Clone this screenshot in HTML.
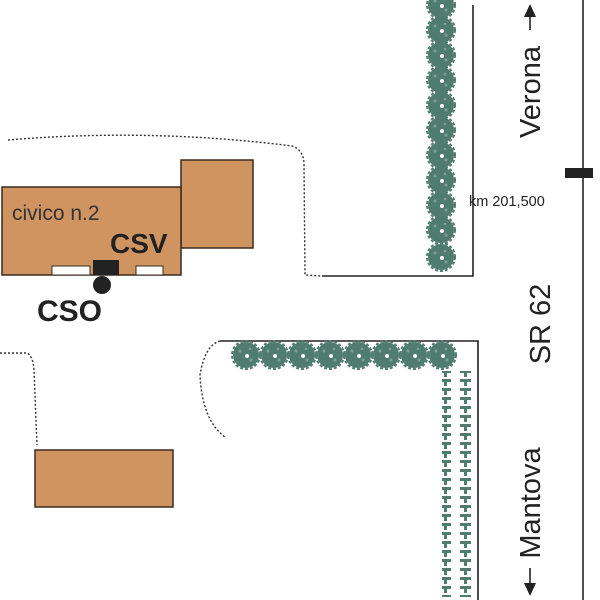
<!DOCTYPE html>
<html><head><style>
html,body{margin:0;padding:0;background:#fff;}
svg{display:block;font-family:"Liberation Sans",sans-serif;}
</style></head><body>
<svg width="600" height="600" viewBox="0 0 600 600" xmlns="http://www.w3.org/2000/svg">
<defs>
<g id="bush">
<circle r="13" fill="#507c70"/>
<circle r="14" fill="none" stroke="#507c70" stroke-width="2" stroke-dasharray="3 2"/>
<circle cx="1" cy="1" r="2" fill="#fff"/>
<circle cx="-6" cy="-4" r="1.5" fill="#7fa090"/>
<circle cx="5" cy="5" r="1.5" fill="#7fa090"/>
<circle cx="4" cy="-6" r="1.3" fill="#7fa090"/>
</g>
<pattern id="tt" x="0" y="0" width="20" height="9" patternUnits="userSpaceOnUse">
<path d="M0 1h11v3h-4v4h-3v-4h-4z" fill="#507c70"/>
</pattern>
</defs>
<g stroke="#222" stroke-width="1.6" fill="none">
<polyline points="473,5 473,276 322,276"/>
<polyline points="220,341 478,341 478,600"/>
<line x1="583" y1="0" x2="583" y2="600"/>
</g>
<g stroke="#333" stroke-width="1.4" fill="none" stroke-dasharray="2 2">
<path d="M8,140 Q150,128 292,146 Q304,150 304,165 L305,275 L322,276"/>
<path d="M0,353 L27,353 Q33,356 34,370 L37,445"/>
<path d="M220,341 Q205,345 200,375 Q202,420 225,437"/>
</g>
<rect x="565" y="168" width="28" height="10" fill="#222"/>
<g>
<use href="#bush" x="441" y="5"/><use href="#bush" x="441" y="30"/><use href="#bush" x="441" y="55"/><use href="#bush" x="441" y="80"/><use href="#bush" x="441" y="105"/><use href="#bush" x="441" y="130"/><use href="#bush" x="441" y="155"/><use href="#bush" x="441" y="180"/><use href="#bush" x="441" y="205"/><use href="#bush" x="441" y="230"/><use href="#bush" x="441" y="257"/>
<use href="#bush" x="246" y="355"/><use href="#bush" x="274" y="355"/><use href="#bush" x="302" y="355"/><use href="#bush" x="330" y="355"/><use href="#bush" x="358" y="355"/><use href="#bush" x="386" y="355"/><use href="#bush" x="414" y="355"/><use href="#bush" x="442" y="355"/>
</g>
<rect x="442" y="371" width="32" height="226" fill="url(#tt)"/>
<g fill="#d09461" stroke="#3a2a1e" stroke-width="1.5">
<rect x="181" y="160" width="72" height="88"/>
<rect x="2" y="187" width="179" height="88"/>
<rect x="35" y="450" width="138" height="57"/>
</g>
<rect x="52" y="266" width="38" height="9" fill="#fff" stroke="#3a2a1e"/>
<rect x="136" y="266" width="27" height="9" fill="#fff" stroke="#3a2a1e"/>
<rect x="93" y="260" width="26" height="15" fill="#222"/>
<circle cx="102" cy="285" r="9" fill="#222"/>
<text x="12" y="220" font-size="21" fill="#333">civico n.2</text>
<text x="110" y="253" font-size="28" font-weight="bold" fill="#222">CSV</text>
<text x="37" y="321" font-size="30" font-weight="bold" fill="#222">CSO</text>
<text x="469" y="206" font-size="14.5" fill="#222">km 201,500</text>
<g font-size="29" fill="#222" text-anchor="middle">
<text transform="translate(540,92) rotate(-90)">Verona</text>
<text transform="translate(550,324) rotate(-90)">SR 62</text>
<text transform="translate(540,503) rotate(-90)">Mantova</text>
</g>
<g stroke="#222" stroke-width="1.6">
<line x1="530" y1="14" x2="530" y2="30"/>
<line x1="530" y1="568" x2="530" y2="585"/>
</g>
<polygon points="530,4 524,17 536,17" fill="#222"/>
<polygon points="530,596 524,583 536,583" fill="#222"/>
</svg>
</body></html>
